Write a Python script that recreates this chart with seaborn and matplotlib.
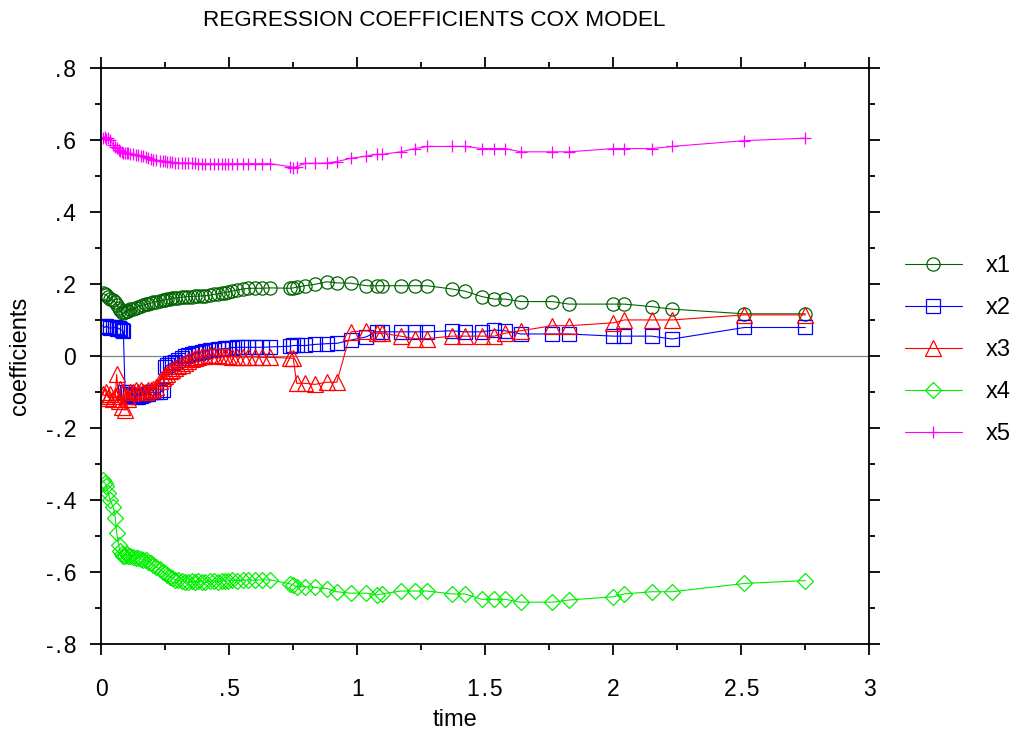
import matplotlib
matplotlib.use("Agg")
import matplotlib.pyplot as plt
from matplotlib.ticker import MultipleLocator, FixedLocator
import seaborn as sns

# event times shared by all coefficient paths
time = [0.005, 0.014, 0.02, 0.027, 0.035, 0.047, 0.055, 0.06, 0.068, 0.073,
        0.08, 0.086, 0.093, 0.099, 0.105, 0.112, 0.125, 0.135, 0.145, 0.155,
        0.164, 0.175, 0.184, 0.195, 0.203, 0.215, 0.229, 0.24, 0.249, 0.258,
        0.268, 0.278, 0.288, 0.3, 0.314, 0.327, 0.34, 0.353, 0.366, 0.379,
        0.392, 0.405, 0.425, 0.44, 0.457, 0.47, 0.483, 0.495, 0.509, 0.529,
        0.555, 0.574, 0.6, 0.626, 0.659, 0.737, 0.75, 0.763, 0.796, 0.835,
        0.88, 0.92, 0.975, 1.035, 1.076, 1.098, 1.169, 1.225, 1.273, 1.369,
        1.42, 1.486, 1.534, 1.577, 1.639, 1.762, 1.827, 2.0, 2.043, 2.15,
        2.23, 2.512, 2.75]

x1 = [0.175, 0.172, 0.17, 0.165, 0.16, 0.155, 0.15, 0.143, 0.135, 0.128,
      0.122, 0.12, 0.122, 0.125, 0.127, 0.13, 0.132, 0.135, 0.138, 0.14,
      0.142, 0.144, 0.146, 0.148, 0.15, 0.152, 0.154, 0.155, 0.157, 0.158,
      0.16, 0.161, 0.162, 0.163, 0.164, 0.165, 0.166, 0.166, 0.167, 0.167,
      0.168, 0.168, 0.17, 0.172, 0.174, 0.175, 0.177, 0.179, 0.181, 0.184,
      0.187, 0.189, 0.189, 0.189, 0.19, 0.189, 0.19, 0.192, 0.196, 0.2,
      0.207, 0.204, 0.203, 0.196, 0.196, 0.196, 0.196, 0.196, 0.196, 0.187,
      0.181, 0.166, 0.159, 0.159, 0.152, 0.152, 0.145, 0.145, 0.145, 0.138,
      0.131, 0.118, 0.118]

x2 = [0.085, 0.08, 0.085, 0.08, 0.078, 0.08, 0.08, 0.075, 0.078, 0.075,
      0.072, 0.07, -0.1, -0.1, -0.105, -0.108, -0.11, -0.112, -0.112, -0.11,
      -0.108, -0.105, -0.105, -0.1, -0.1, -0.1, -0.1, -0.095, -0.03, -0.025,
      -0.02, -0.018, -0.015, -0.01, -0.005, 0.0, 0.003, 0.005, 0.008, 0.01,
      0.012, 0.015, 0.018, 0.018, 0.02, 0.02, 0.022, 0.022, 0.024, 0.025,
      0.025, 0.025, 0.025, 0.025, 0.026, 0.028, 0.03, 0.03, 0.03, 0.033,
      0.035, 0.036, 0.045, 0.054, 0.068, 0.068, 0.068, 0.068, 0.068, 0.071,
      0.068, 0.068, 0.073, 0.071, 0.062, 0.062, 0.062, 0.056, 0.056, 0.056,
      0.048, 0.08, 0.08]

x3 = [-0.105, -0.11, -0.1, -0.115, -0.105, -0.12, -0.11, -0.05, -0.125, -0.09,
      -0.14, -0.1, -0.15, -0.11, -0.12, -0.1, -0.1, -0.095, -0.1, -0.095,
      -0.1, -0.1, -0.095, -0.095, -0.09, -0.085, -0.07, -0.06, -0.055, -0.05,
      -0.042, -0.038, -0.032, -0.028, -0.024, -0.018, -0.012, -0.008, -0.005, -0.002,
      0.0, 0.002, 0.004, 0.004, 0.003, 0.002, 0.0, 0.0, -0.001, -0.002,
      -0.002, -0.002, -0.002, -0.003, -0.003, -0.005, -0.006, -0.075, -0.075, -0.078,
      -0.072, -0.072, 0.068, 0.071, 0.064, 0.064, 0.056, 0.049, 0.049, 0.056,
      0.056, 0.056, 0.056, 0.064, 0.071, 0.085, 0.085, 0.093, 0.101, 0.101,
      0.101, 0.115, 0.115]

x4 = [-0.345, -0.352, -0.36, -0.38, -0.4, -0.42, -0.45, -0.49, -0.525, -0.54,
      -0.55, -0.555, -0.555, -0.55, -0.555, -0.555, -0.557, -0.56, -0.56, -0.562,
      -0.565, -0.567, -0.57, -0.575, -0.58, -0.585, -0.592, -0.598, -0.603, -0.608,
      -0.612, -0.616, -0.62, -0.622, -0.625, -0.626, -0.628, -0.625, -0.627, -0.624,
      -0.626, -0.628, -0.625, -0.624, -0.626, -0.625, -0.623, -0.624, -0.622, -0.623,
      -0.622, -0.621, -0.622, -0.621, -0.621, -0.632, -0.635, -0.64, -0.64, -0.642,
      -0.645, -0.654, -0.658, -0.658, -0.663, -0.66, -0.652, -0.652, -0.652, -0.66,
      -0.66, -0.675, -0.675, -0.675, -0.683, -0.683, -0.677, -0.668, -0.66, -0.654,
      -0.654, -0.631, -0.623]

x5 = [0.605, 0.61, 0.603, 0.607, 0.6, 0.587, 0.582, 0.578, 0.572, 0.57,
      0.568, 0.566, 0.565, 0.564, 0.564, 0.563, 0.561, 0.56, 0.559, 0.557,
      0.556, 0.554, 0.551, 0.548, 0.546, 0.544, 0.543, 0.543, 0.542, 0.541,
      0.54, 0.539, 0.538, 0.537, 0.537, 0.537, 0.537, 0.536, 0.536, 0.535,
      0.535, 0.535, 0.535, 0.535, 0.535, 0.535, 0.535, 0.535, 0.535, 0.535,
      0.535, 0.535, 0.535, 0.535, 0.535, 0.527, 0.523, 0.527, 0.536, 0.536,
      0.537, 0.541, 0.55, 0.556, 0.561, 0.561, 0.568, 0.577, 0.583, 0.583,
      0.583, 0.577, 0.577, 0.577, 0.568, 0.568, 0.568, 0.577, 0.577, 0.577,
      0.583, 0.599, 0.606]

series_names = ["x1", "x2", "x3", "x4", "x5"]
series_values = [x1, x2, x3, x4, x5]
x_ticks = [0, 0.5, 1, 1.5, 2, 2.5, 3]
x_tick_labels = ["0", ".\u200a5", "1", "1\u200a.\u200a5", "2", "2\u200a.\u200a5", "3"]
y_ticks = [-0.8, -0.6, -0.4, -0.2, 0, 0.2, 0.4, 0.6, 0.8]
y_tick_labels = ["-\u200a.\u200a8", "-\u200a.\u200a6", "-\u200a.\u200a4", "-\u200a.\u200a2", "0",
                 ".\u200a2", ".\u200a4", ".\u200a6", ".\u200a8"]

# colour, marker, marker size for each series
styles = {
    "x1": ("#006400", "o", 9.5),
    "x2": ("#0000ff", "s", 9.5),
    "x3": ("#ff0000", "^", 11),
    "x4": ("#00ee00", "D", 8),
    "x5": ("#ff00ff", "+", 9),
}

sns.set_theme(style="ticks")
plt.rcParams['font.family'] = ['Liberation Sans', 'DejaVu Sans']
for key in ("text.color", "axes.labelcolor", "xtick.color", "ytick.color"):
    plt.rcParams[key] = "black"

fig = plt.figure(figsize=(10.13, 7.34), dpi=100)
ax = fig.add_axes([101.3 / 1013, 1 - 644.3 / 734, 768 / 1013, 576 / 734])

ax.axhline(0, color="#808080", lw=0.9, zorder=1)

for name, vals in zip(series_names, series_values):
    color, marker, size = styles[name]
    sns.lineplot(x=time, y=vals, ax=ax, estimator=None, sort=False,
                 color=color, linewidth=0.8, marker=marker, markersize=size,
                 markerfacecolor="none", markeredgecolor=color,
                 markeredgewidth=0.9, label=name)

ax.set_xlim(0, 3)
ax.set_ylim(-0.8, 0.8)
ax.xaxis.set_major_locator(FixedLocator(x_ticks))
ax.set_xticklabels(x_tick_labels)
ax.xaxis.set_minor_locator(MultipleLocator(0.25))
ax.yaxis.set_major_locator(FixedLocator(y_ticks))
ax.set_yticklabels(y_tick_labels)
ax.yaxis.set_minor_locator(MultipleLocator(0.1))

ax.tick_params(which="both", direction="out", top=True, right=True,
               labeltop=False, labelright=False, color="black",
               labelcolor="black", width=1.3)
ax.tick_params(which="major", length=8, labelsize=16.5)
ax.tick_params(axis="x", which="major", pad=16)
ax.tick_params(axis="y", which="major", pad=10)
ax.tick_params(which="minor", length=4)
for sp in ax.spines.values():
    sp.set_visible(True)
    sp.set_color("black")
    sp.set_linewidth(1.3)

ax.set_xlabel("time", fontsize=17, color="black")
ax.xaxis.set_label_coords(0.46, -0.112)
ax.set_ylabel("coefficients", fontsize=17, color="black")
ax.yaxis.set_label_coords(-0.091, 0.5)

fig.text(434.5 / 1013, 1 - 20 / 734, "REGRESSION COEFFICIENTS COX MODEL",
         fontsize=16.2, ha="center", va="center", color="black")

leg = ax.legend(loc="center left", bbox_to_anchor=(905 / 1013, 1 - 350 / 734),
                bbox_transform=fig.transFigure, frameon=False, fontsize=17,
                handlelength=2.4, handletextpad=1.0, labelspacing=0.85,
                borderpad=0, borderaxespad=0)
for txt in leg.get_texts():
    txt.set_color("black")

fig.savefig("out.png", dpi=100)
